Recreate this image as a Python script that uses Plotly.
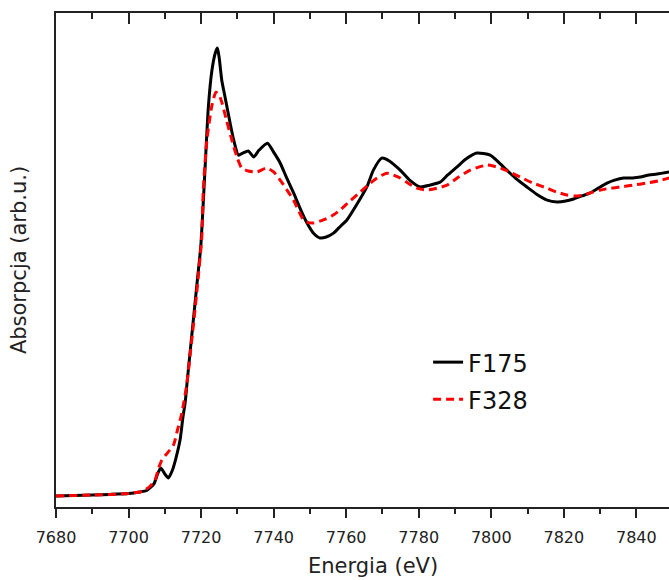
import plotly.graph_objects as go

# Energy (eV) and normalized absorption
energy_f175 = [7680, 7685, 7690, 7695, 7700, 7703, 7705, 7707, 7708, 7708.9,
               7710, 7711, 7712, 7713, 7714.2, 7715, 7715.6, 7716.2, 7717, 7718,
               7719, 7719.9, 7721, 7722, 7723, 7724, 7724.5, 7725, 7725.7, 7726.6,
               7728, 7729, 7730.3, 7731.5, 7733, 7734.5, 7736, 7738.3, 7740, 7741.8,
               7743.5, 7745.5, 7747.5, 7749.2, 7751, 7752.8, 7754.5, 7756.5, 7758.5, 7760.2,
               7763, 7765.7, 7767.5, 7769.8, 7772, 7774.9, 7777.5, 7780.4, 7783, 7785.9,
               7788, 7790.5, 7793, 7796, 7799.7, 7802, 7804.3, 7807, 7809.8, 7812.5,
               7815.4, 7818.1, 7820.5, 7822.7, 7825, 7827.3, 7829.5, 7831.9, 7834, 7836.5,
               7839, 7841.1, 7843.5, 7845.7, 7849.1]
mu_f175 = [-0.003, -0.002, 0.0, 0.002, 0.005, 0.010, 0.015, 0.037, 0.070, 0.090,
           0.070, 0.057, 0.080, 0.120, 0.183, 0.260, 0.307, 0.383, 0.480, 0.600,
           0.720, 0.827, 1.067, 1.293, 1.417, 1.477, 1.490, 1.457, 1.383, 1.327,
           1.240, 1.183, 1.133, 1.140, 1.147, 1.127, 1.150, 1.173, 1.143, 1.107,
           1.060, 1.007, 0.950, 0.907, 0.873, 0.857, 0.860, 0.873, 0.897, 0.917,
           0.970, 1.027, 1.083, 1.123, 1.113, 1.083, 1.050, 1.027, 1.033, 1.043,
           1.067, 1.093, 1.120, 1.140, 1.133, 1.110, 1.083, 1.053, 1.027, 1.003,
           0.983, 0.977, 0.980, 0.987, 0.997, 1.007, 1.023, 1.040, 1.050, 1.057,
           1.057, 1.060, 1.067, 1.070, 1.077]

energy_f328 = [7680, 7690, 7700, 7704, 7706, 7707.3, 7708.3, 7709.2, 7710.5, 7712.4,
               7713.5, 7714.7, 7716.1, 7717, 7718, 7719, 7720.2, 7720.6, 7721.6, 7723,
               7724.1, 7725, 7725.7, 7727, 7728.5, 7730, 7731.2, 7733, 7735.4, 7738.1,
               7740, 7741.8, 7743.5, 7745.5, 7748.2, 7749.2, 7751, 7753.7, 7756, 7758.3,
               7761, 7763.9, 7766, 7768.5, 7771.2, 7773, 7774.9, 7777, 7779.5, 7782.3,
               7785, 7787.8, 7791, 7794.2, 7796.5, 7798.8, 7800.5, 7802.5, 7805, 7808,
               7811.5, 7815.4, 7818, 7820.9, 7823, 7825.5, 7828, 7830.1, 7833, 7835.6,
               7839, 7842.9, 7846, 7849.1]
mu_f328 = [-0.003, 0.0, 0.005, 0.013, 0.030, 0.050, 0.090, 0.117, 0.137, 0.167,
           0.217, 0.273, 0.373, 0.470, 0.580, 0.700, 0.860, 1.017, 1.183, 1.300,
           1.343, 1.333, 1.310, 1.250, 1.183, 1.123, 1.090, 1.080, 1.077, 1.090,
           1.077, 1.050, 1.020, 0.983, 0.917, 0.910, 0.907, 0.917, 0.930, 0.950,
           0.980, 1.010, 1.033, 1.057, 1.073, 1.067, 1.057, 1.040, 1.023, 1.017,
           1.023, 1.033, 1.060, 1.083, 1.093, 1.100, 1.097, 1.090, 1.077, 1.060,
           1.040, 1.023, 1.010, 1.000, 0.997, 1.000, 1.010, 1.017, 1.023, 1.027,
           1.033, 1.040, 1.047, 1.057]

x_ticks = [7680, 7700, 7720, 7740, 7760, 7780, 7800, 7820, 7840]
x_range = [7680, 7849]
y_range = [-0.04, 1.607]

FONT = "DejaVu Sans, sans-serif"

fig = go.Figure()
fig.add_trace(go.Scatter(x=energy_f175, y=mu_f175, mode="lines", name="F175",
                         legendgroup="a",
                         line=dict(color="black", width=3, shape="spline", smoothing=0.6)))
fig.add_trace(go.Scatter(x=energy_f328, y=mu_f328, mode="lines", name="F328",
                         legendgroup="b", xaxis="x2",
                         line=dict(color="#ff0000", width=3, dash="8px,5px",
                                   shape="spline", smoothing=0.6)))

fig.update_layout(
    width=669, height=580,
    margin=dict(l=56, r=0, t=13, b=73),
    plot_bgcolor="white", paper_bgcolor="white",
    font=dict(family=FONT, color="#222"),
    showlegend=True,
    legend=dict(x=0.607, y=0.338, xanchor="left", yanchor="top",
                font=dict(size=24, family=FONT, color="#111"),
                bgcolor="rgba(0,0,0,0)", tracegroupgap=3),
    xaxis=dict(range=x_range, tickvals=x_ticks, ticks="outside", ticklen=9,
               tickwidth=1.5, tickcolor="#222", ticklabelstandoff=6,
               minor=dict(dtick=10, tick0=7680, ticks="outside", ticklen=5,
                          tickwidth=1.5, tickcolor="#222"),
               showline=True, linecolor="#222", linewidth=1.5,
               showgrid=False, zeroline=False, automargin=False,
               tickfont=dict(size=16, family=FONT, color="#222")),
    xaxis2=dict(range=x_range, overlaying="x", side="top", anchor="y",
                tickvals=x_ticks, ticks="inside", ticklen=11, tickwidth=1.5,
                tickcolor="#222",
                minor=dict(dtick=10, tick0=7680, ticks="inside", ticklen=6,
                           tickwidth=1.5, tickcolor="#222"),
                showticklabels=False, showline=True, linecolor="#222",
                linewidth=1.5, showgrid=False, zeroline=False, automargin=False),
    yaxis=dict(range=y_range, showticklabels=False, ticks="", showgrid=False,
               zeroline=False, showline=True, linecolor="#222", linewidth=1.5,
               automargin=False,
               title=dict(text="Absorpcja (arb.u.)", standoff=22,
                          font=dict(size=21, family=FONT, color="#222"))),
    annotations=[dict(text="Energia (eV)", xref="paper", yref="paper",
                      x=0.517, y=-0.091, xanchor="center", yanchor="top",
                      showarrow=False, font=dict(size=21, family=FONT, color="#222"))],
)

fig.write_html("out.html",
               config={"displayModeBar": False},
               post_script="document.body.style.margin='0';"
                           "document.body.style.overflow='hidden';")
